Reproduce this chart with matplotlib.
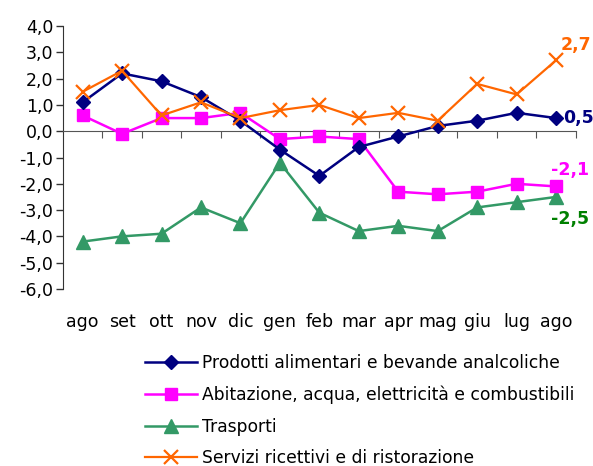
import matplotlib.pyplot as plt
from matplotlib.transforms import blended_transform_factory

months = ["ago", "set", "ott", "nov", "dic", "gen", "feb", "mar", "apr", "mag", "giu", "lug", "ago"]

alimentari = [1.1, 2.2, 1.9, 1.3, 0.4, -0.7, -1.7, -0.6, -0.2, 0.2, 0.4, 0.7, 0.5]
abitazione = [0.6, -0.1, 0.5, 0.5, 0.7, -0.3, -0.2, -0.3, -2.3, -2.4, -2.3, -2.0, -2.1]
trasporti = [-4.2, -4.0, -3.9, -2.9, -3.5, -1.2, -3.1, -3.8, -3.6, -3.8, -2.9, -2.7, -2.5]
servizi = [1.5, 2.3, 0.6, 1.1, 0.5, 0.8, 1.0, 0.5, 0.7, 0.4, 1.8, 1.4, 2.7]

labels = ["Prodotti alimentari e bevande analcoliche",
          "Abitazione, acqua, elettricità e combustibili",
          "Trasporti",
          "Servizi ricettivi e di ristorazione"]

yticks = [4, 3, 2, 1, 0, -1, -2, -3, -4, -5, -6]

NAVY = "#000080"
MAGENTA = "#FF00FF"
GREEN = "#339966"
ORANGE = "#FF6600"

fig = plt.figure(figsize=(5.93, 4.66), dpi=100, facecolor="white")
ax = fig.add_axes([0.106, 0.380, 0.865, 0.564])

x = list(range(len(months)))
ax.plot(x, alimentari, color=NAVY, lw=1.8, marker="D", ms=7.5, label=labels[0], zorder=5)
ax.plot(x, abitazione, color=MAGENTA, lw=1.8, marker="s", ms=8.5, label=labels[1], zorder=4)
ax.plot(x, trasporti, color=GREEN, lw=1.8, marker="^", ms=9.5, label=labels[2], zorder=3)
ax.plot(x, servizi, color=ORANGE, lw=1.6, marker="x", ms=10, mew=1.6, label=labels[3], zorder=6)

# end-of-series value labels
last = len(months) - 1
ax.annotate("0,5", (last, alimentari[-1]), xytext=(5, 0), textcoords="offset points",
            color=NAVY, fontsize=12.5, fontweight="bold", va="center", ha="left")
ax.annotate("-2,1", (last, abitazione[-1]), xytext=(10, 12), textcoords="offset points",
            color=MAGENTA, fontsize=12.5, fontweight="bold", va="center", ha="center")
ax.annotate("-2,5", (last, trasporti[-1]), xytext=(10, -16), textcoords="offset points",
            color="#008000", fontsize=12.5, fontweight="bold", va="center", ha="center")
ax.annotate("2,7", (last, servizi[-1]), xytext=(14, 11), textcoords="offset points",
            color=ORANGE, fontsize=12.5, fontweight="bold", va="center", ha="center")

ax.set_xlim(-0.5, last + 0.5)
ax.set_ylim(-6, 4)
ax.set_yticks(yticks)
ax.set_yticklabels([("%.1f" % v).replace(".", ",") for v in yticks])
ax.tick_params(axis="y", labelsize=12.5, length=5, direction="out", width=1, color="#333333", pad=2)

ax.spines["top"].set_visible(False)
ax.spines["right"].set_visible(False)
ax.spines["bottom"].set_position(("data", 0))
ax.spines["left"].set_color("#333333")
ax.spines["bottom"].set_color("#555555")

# boundaries between categories as tick marks on the zero line
ax.set_xticks([i + 0.5 for i in range(len(months))])
ax.set_xticklabels([])
ax.tick_params(axis="x", length=5, direction="out", color="#555555")

tr = blended_transform_factory(ax.transData, ax.transAxes)
for i, m in enumerate(months):
    ax.text(i, -0.125, m, transform=tr, ha="center", va="center", fontsize=12.5)

fig.legend(loc="upper left", bbox_to_anchor=(0.2445, 0.241), frameon=False,
           fontsize=12.3, handlelength=3.05, labelspacing=0.8, handletextpad=0.3,
           borderaxespad=0, borderpad=0)

fig.savefig("out.png", dpi=100)
